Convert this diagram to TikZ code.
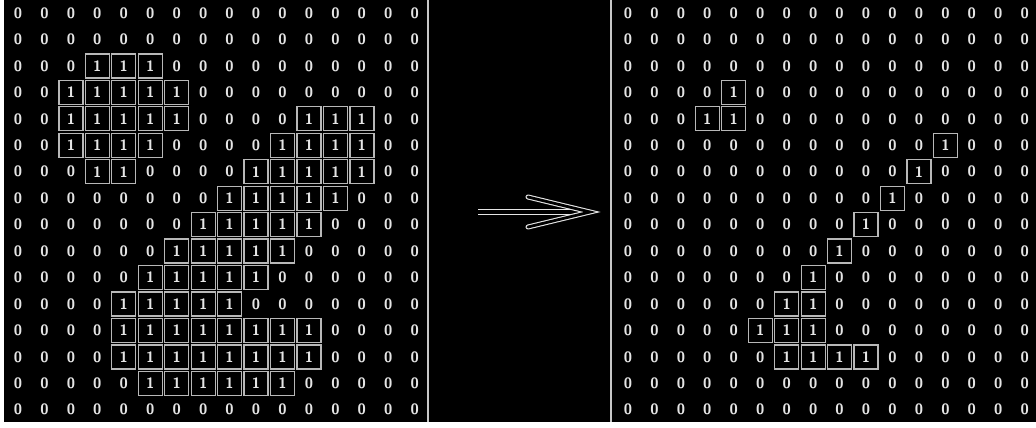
\documentclass[tikz,border=0pt]{standalone}
\usepackage{tikz}
\tikzset{
  bitzero/.style={text=black!10, font=\sffamily\bfseries\fontsize{15}{15}\selectfont, inner sep=0pt},
  bitone/.style={bitzero, fill=black, draw=black!28, line width=1.3pt, minimum size=24pt},
  sepline/.style={line width=1.8pt, draw=black!22},
  shaftband/.style={line width=1.1pt, draw=black!10, double=black, double distance=3.6pt, line cap=butt},
  armband/.style={line width=1.1pt, draw=black!10, double=black, double distance=2.8pt, line join=miter, line cap=round},
}

\begin{document}
\begin{tikzpicture}[x=1pt, y=-1pt]
\useasboundingbox (0,0) rectangle (1036,428);
\fill[white] (0,0) rectangle (1036,428);
\fill[black] (4,0) rectangle (1036,422);
% panel borders
\draw[sepline] (428,0) -- (428,422);
\draw[sepline] (611,0) -- (611,422);
% input image
\foreach \r in {0,...,15}
  \foreach \c in {0,...,15}
    \node[bitzero] (L0-\r-\c) at (18+26.45*\c, 13+26.45*\r) {0};
\foreach \r/\a/\b in {2/3/5, 3/2/6, 4/2/6, 4/11/13, 5/2/5, 5/10/13, 6/3/4, 6/9/13,
                      7/8/12, 8/7/11, 9/6/10, 10/5/9, 11/4/8, 12/4/11, 13/4/11, 14/5/10}
  \foreach \c in {\a,...,\b}
    \node[bitone] (L1-\r-\c) at (18+26.45*\c, 13+26.45*\r) {1};
% output image
\foreach \r in {0,...,15}
  \foreach \c in {0,...,15}
    \node[bitzero] (R0-\r-\c) at (628+26.45*\c, 13+26.45*\r) {0};
\foreach \r/\a/\b in {3/4/4, 4/3/4, 5/12/12, 6/11/11, 7/10/10, 8/9/9, 9/8/8,
                      10/7/7, 11/6/7, 12/5/7, 13/6/9}
  \foreach \c in {\a,...,\b}
    \node[bitone] (R1-\r-\c) at (628+26.45*\c, 13+26.45*\r) {1};
% arrow
\coordinate (arrtail) at (478,212);
\coordinate (shaftend) at (580,212);
\coordinate (arrtip) at (590,212);
\coordinate (armup) at (528,197);
\coordinate (armdown) at (528,227);
\draw[shaftband] (arrtail) -- (shaftend);
\draw[armband] (armup) -- (arrtip) -- (armdown);
\end{tikzpicture}
\end{document}
